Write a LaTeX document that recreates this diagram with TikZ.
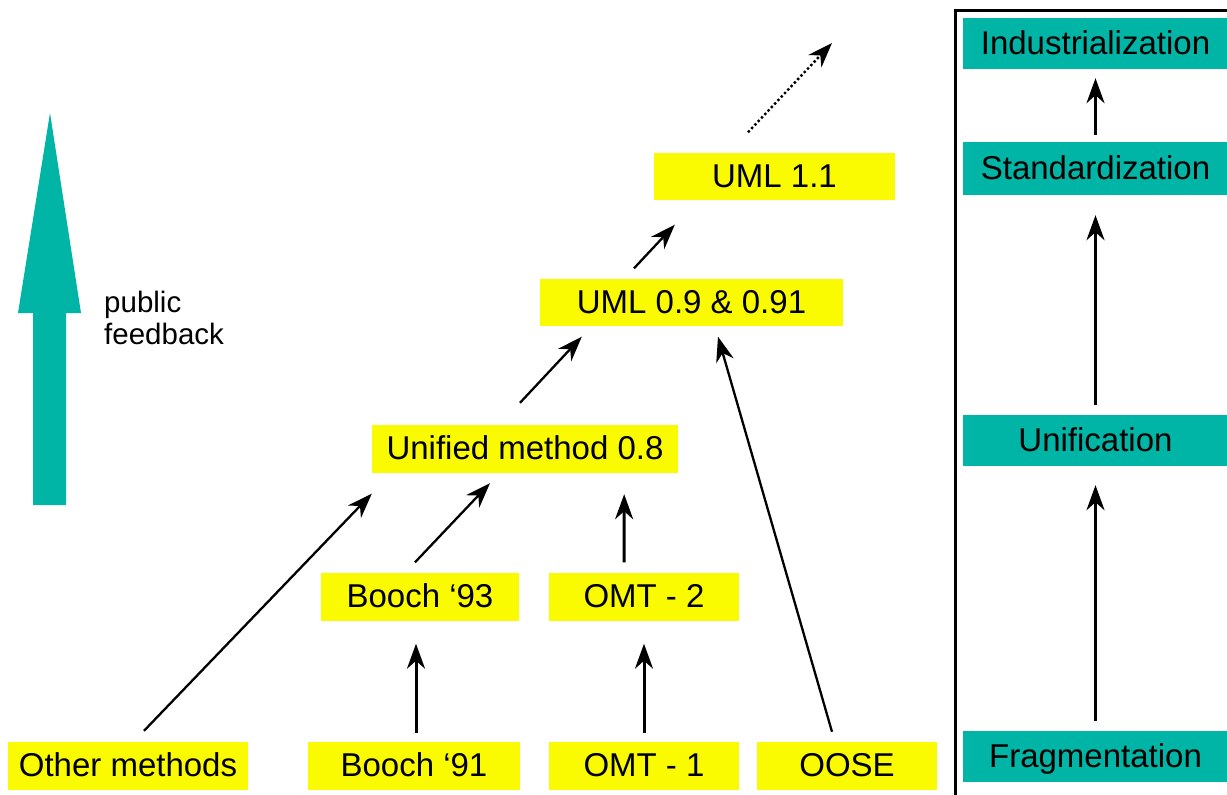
\documentclass[tikz,border=0pt]{standalone}
\usepackage{fontspec}
\setmainfont{Liberation Sans}
\usetikzlibrary{arrows.meta,calc}
\definecolor{tealc}{RGB}{0,181,165}
\definecolor{yell}{RGB}{250,250,0}
\tikzset{
  ybox/.style={fill=yell, inner sep=0pt, minimum height=48pt, text height=23.5pt, text depth=2pt,
    font=\fontsize{33}{36}\selectfont},
  tbox/.style={fill=tealc, inner sep=0pt, minimum height=52pt, minimum width=265pt, text height=23.5pt, text depth=2pt,
    font=\fontsize{33}{36}\selectfont},
  tipst/.style={-{Stealth[length=25pt,width=18pt,inset=8pt]}},
  arr/.style={line width=3pt, tipst},
  thinarr/.style={line width=2.3pt, tipst},
  dotarr/.style={line width=2.4pt, dash pattern=on 2.4pt off 2.4pt, tipst}
}
\begin{document}
\begin{tikzpicture}[x=1pt,y=-1pt]
\useasboundingbox (0,0) rectangle (1227,795);
% big public feedback arrow
\fill[tealc] (33,505) -- (33,313) -- (18,313) -- (50,113) -- (81,313) -- (66,313) -- (66,505) -- cycle;
\node[anchor=west, align=left, inner sep=0pt, font=\fontsize{29.5}{31.5}\selectfont] (pf) at (104,318) {public\\feedback};
% yellow boxes
\node[ybox, minimum width=240pt] (om) at (128,766) {Other methods};
\node[ybox, minimum width=212pt] (b91) at (414,766) {Booch ‘91};
\node[ybox, minimum width=190pt] (o1) at (644,766) {OMT - 1};
\node[ybox, minimum width=180pt] (oose) at (847,766) {OOSE};
\node[ybox, minimum width=198pt] (b93) at (420,596.5) {Booch ‘93};
\node[ybox, minimum width=190pt] (o2) at (644,596.5) {OMT - 2};
\node[ybox, minimum width=306pt] (um) at (525,448.5) {Unified method 0.8};
\node[ybox, minimum width=303pt, minimum height=47pt] (u09) at (691.5,302.5) {UML 0.9 \& 0.91};
\node[ybox, minimum width=241pt, minimum height=47pt] (u11) at (774.5,176.5) {UML 1.1};
\coordinate (next) at (832,43);
% arrows left
\draw[thinarr] ($(om.north)+(16,-11)$) -- ($(um.south west)+(0,21)$);
\draw[thinarr] ($(b93.north)+(-5,-10)$) -- ($(um.south)+(-35,10.5)$);
\draw[arr] ($(b91.north)+(2,-9)$) -- ($(b93.south)+(-4,23)$);
\draw[arr] ($(o1.north)+(0,-9)$) -- ($(o2.south)+(0,23)$);
\draw[arr] ($(o2.north)+(-20,-10)$) -- ($(um.south east)+(-54,21.5)$);
\draw[thinarr] ($(oose.north)+(-15,-10)$) -- ($(u09.south)+(26.5,10.5)$);
\draw[thinarr] ($(um.north)+(-5,-21.5)$) -- ($(u09.south west)+(42,10.5)$);
\draw[thinarr] ($(u09.north)+(-57.5,-10.5)$) -- ($(u11.south west)+(21,24.5)$);
\draw[dotarr] ($(u11.north)+(-26.5,-20.5)$) -- (next);
% right panel
\draw[line width=3pt] (955,820) -- (955,10) -- (1250,10);
\node[tbox, minimum height=51pt] (ind) at (1095.5,43.5) {Industrialization};
\node[tbox, minimum height=53pt] (std) at (1095.5,168.5) {Standardization};
\node[tbox, minimum height=51pt] (uni) at (1095.5,440.5) {Unification};
\node[tbox, minimum height=51pt] (frag) at (1095.5,756.5) {Fragmentation};
\draw[arr] ($(frag.north)+(0,-10)$) -- ($(uni.south)+(0,19)$);
\draw[arr] ($(uni.north)+(0,-10)$) -- ($(std.south)+(0,20)$);
\draw[arr] ($(std.north)+(0,-7)$) -- ($(ind.south)+(0,9)$);
\end{tikzpicture}
\end{document}
